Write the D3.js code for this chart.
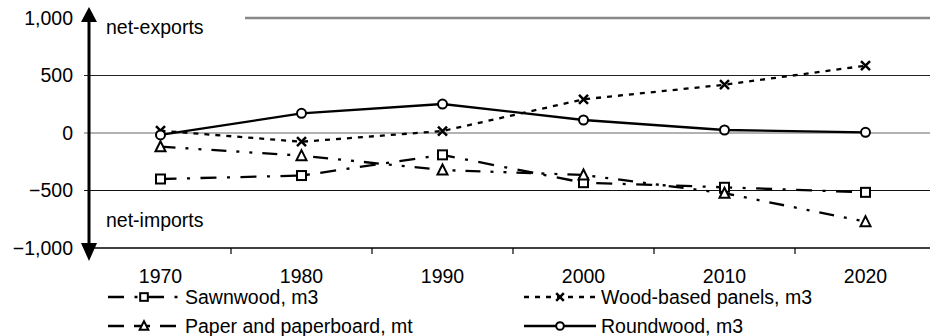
<!DOCTYPE html>
<html><head><meta charset="utf-8">
<script src="https://cdn.jsdelivr.net/npm/d3@7"></script>
<style>body{margin:0;background:#fff}svg{display:block}text{font-family:"Liberation Sans",Arial,sans-serif;font-size:19.5px;fill:#000}</style>
</head><body><svg id="c" width="930" height="336"></svg>
<script>
const years = ["1970","1980","1990","2000","2010","2020"];
const sawnwood = [-400,-370,-190,-432,-472,-516];
const panels = [20,-76,17,293,420,585];
const paper = [-119,-197,-322,-365,-524,-771];
const roundwood = [-17,171,252,113,26,6];
const yTicks = [1000,500,0,-500,-1000];
const seriesNames = ["Sawnwood, m3","Wood-based panels, m3","Paper and paperboard, mt","Roundwood, m3"];

const svg = d3.select("#c");
const x = d3.scaleBand().domain(years).range([90,936]);
const y = d3.scaleLinear().domain([-1000,1000]).range([248,18]);
const fmt = d3.format(",");

// gridlines
const gridCol = {500:"#222",0:"#666","-500":"#111"};
[500,0,-500].forEach(v=>{
  svg.append("line").attr("x1",84).attr("x2",930).attr("y1",y(v)).attr("y2",y(v))
    .attr("stroke",gridCol[v]).attr("stroke-width",1.2);
});
// top gray line
svg.append("line").attr("x1",245).attr("x2",930).attr("y1",y(1000)).attr("y2",y(1000))
  .attr("stroke","#888").attr("stroke-width",2.5);
// x axis line
svg.append("line").attr("x1",89).attr("x2",930).attr("y1",y(-1000)).attr("y2",y(-1000))
  .attr("stroke","#000").attr("stroke-width",1.5);
// x ticks at band boundaries
years.slice(1).forEach(yr=>{
  const xx = x(yr);
  svg.append("line").attr("x1",xx).attr("x2",xx).attr("y1",y(-1000)).attr("y2",y(-1000)+6)
    .attr("stroke","#000").attr("stroke-width",1.2);
});
// y labels
yTicks.forEach(v=>{
  svg.append("text").attr("x",73).attr("y",y(v)).attr("dy","0.35em").attr("text-anchor","end").text(fmt(v));
});
// x labels
years.forEach(yr=>{
  svg.append("text").attr("x",x(yr)+x.bandwidth()/2).attr("y",276).attr("dy","0.35em").attr("text-anchor","middle").text(yr);
});
// vertical axis with arrows
svg.append("line").attr("x1",89).attr("x2",89).attr("y1",20).attr("y2",246).attr("stroke","#000").attr("stroke-width",3);
svg.append("path").attr("d","M89,7 L81,22 L97,22 Z").attr("fill","#000");
svg.append("path").attr("d","M89,261 L81,243 L97,243 Z").attr("fill","#000");
svg.append("text").attr("x",106).attr("y",34).text("net-exports");
svg.append("text").attr("x",106).attr("y",227).text("net-imports");

const series = [
  {name:seriesNames[0], vals:sawnwood, dash:"16,10.5,3,10.5", marker:"square"},
  {name:seriesNames[1], vals:panels, dash:"5,6", marker:"x"},
  {name:seriesNames[2], vals:paper, dash:"15,10,3,10,3,10", marker:"triangle"},
  {name:seriesNames[3], vals:roundwood, dash:null, marker:"circle"}
];
const cx = i => x(years[i]) + x.bandwidth()/2;
const line = d3.line().x((d,i)=>cx(i)).y(d=>y(d));

function drawMarker(g, type, px, py, sc){
  sc = sc || 1;
  const h = 4.5*sc;
  if(type==="square") g.append("rect").attr("x",px-h).attr("y",py-h).attr("width",2*h).attr("height",2*h).attr("fill","#fff").attr("stroke","#000").attr("stroke-width",2);
  else if(type==="circle") g.append("circle").attr("cx",px).attr("cy",py).attr("r",h).attr("fill","#fff").attr("stroke","#000").attr("stroke-width",2);
  else if(type==="triangle") g.append("path").attr("d",`M${px},${py-h-1} L${px-h-0.5},${py+h} L${px+h+0.5},${py+h} Z`).attr("fill","#fff").attr("stroke","#000").attr("stroke-width",2);
  else if(type==="x") g.append("path").attr("d",`M${px-h},${py-h} L${px+h},${py+h} M${px-h},${py+h} L${px+h},${py-h}`).attr("stroke","#000").attr("stroke-width",2.5);
}

series.forEach(s=>{
  const p = svg.append("path").datum(s.vals).attr("d",line).attr("fill","none").attr("stroke","#000").attr("stroke-width",2.3);
  if(s.dash) p.attr("stroke-dasharray",s.dash);
});
series.forEach(s=>{
  const g = svg.append("g");
  s.vals.forEach((v,i)=>drawMarker(g,s.marker,cx(i),y(v)));
});

// legend
const legPos = [[108,297],[524,297],[108,326],[524,326]];
const legDash = ["16,10.5,3,10.5","5,6","16,10","none"];
series.forEach((s,i)=>{
  const [lx,ly] = legPos[i];
  const l = svg.append("line").attr("x1",lx).attr("x2",lx+72).attr("y1",ly).attr("y2",ly).attr("stroke","#000").attr("stroke-width",2.3);
  if(legDash[i]!=="none") l.attr("stroke-dasharray",legDash[i]);
  drawMarker(svg.append("g"), s.marker, lx+36, ly, 0.85);
  svg.append("text").attr("x",lx+77).attr("y",ly).attr("dy","0.35em").text(s.name);
});
</script></body></html>
